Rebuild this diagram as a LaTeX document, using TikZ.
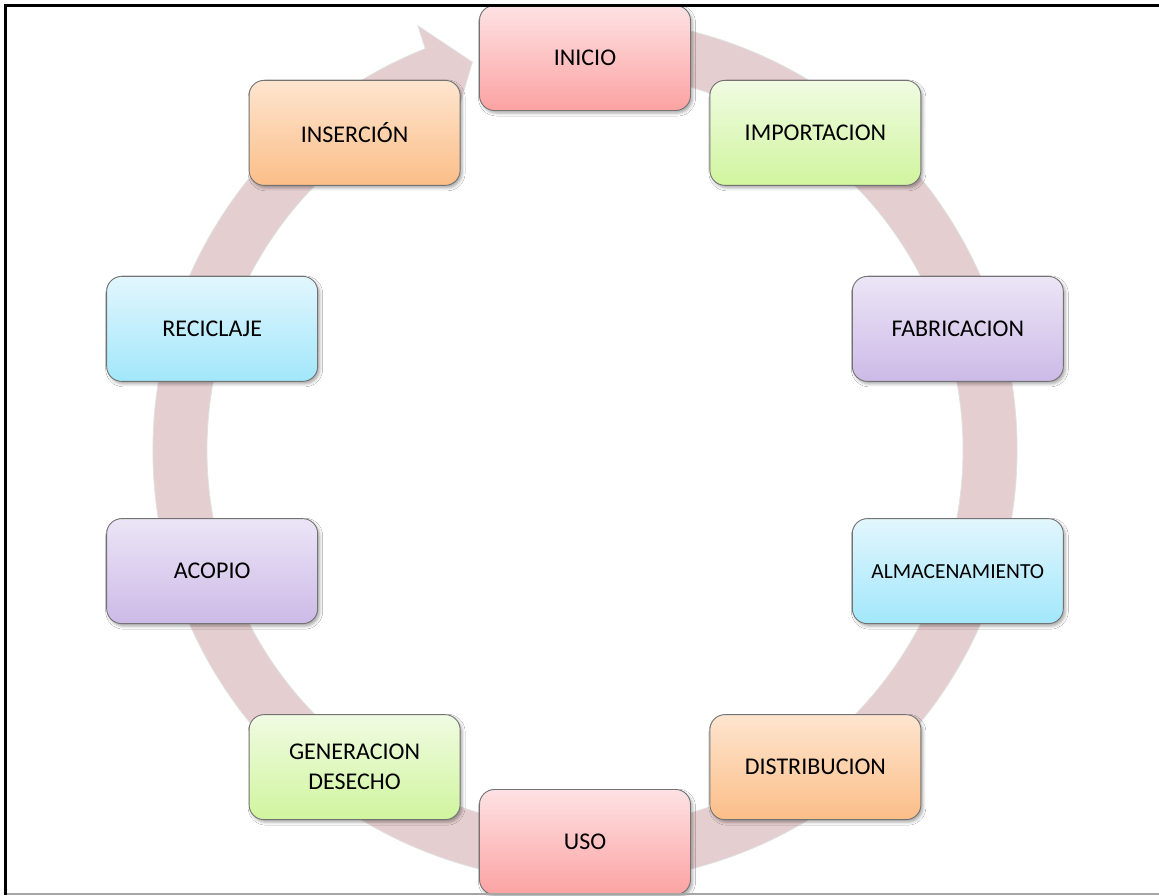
\documentclass[tikz,border=0pt]{standalone}
\usepackage{fontspec}
\setmainfont{Carlito}
\usetikzlibrary{shadows.blur}

\definecolor{ringfill}{RGB}{229,206,207}
\definecolor{pinkT}{RGB}{254,226,228}
\definecolor{pinkB}{RGB}{252,162,162}
\definecolor{greenT}{RGB}{240,251,226}
\definecolor{greenB}{RGB}{208,245,158}
\definecolor{purpleT}{RGB}{236,229,246}
\definecolor{purpleB}{RGB}{204,186,231}
\definecolor{blueT}{RGB}{226,246,253}
\definecolor{blueB}{RGB}{162,231,251}
\definecolor{orangeT}{RGB}{254,229,207}
\definecolor{orangeB}{RGB}{251,190,136}

\tikzset{
  stage/.style={rounded corners=15pt, draw=black!55, line width=0.9pt,
    minimum width=211pt, minimum height=105pt, inner sep=0pt, align=center,
    font=\fontsize{24}{30}\selectfont,
    blur shadow={shadow xshift=2pt, shadow yshift=-2.5pt,
      shadow blur radius=3pt, shadow opacity=35}},
  smalltext/.style={font=\fontsize{21.5}{26}\selectfont},
  pinkbox/.style={top color=pinkT, bottom color=pinkB},
  greenbox/.style={top color=greenT, bottom color=greenB},
  purplebox/.style={top color=purpleT, bottom color=purpleB},
  bluebox/.style={top color=blueT, bottom color=blueB},
  orangebox/.style={top color=orangeT, bottom color=orangeB},
  cyclearrow/.style={fill=ringfill, draw=black!12, line width=0.8pt},
}

\begin{document}
\begin{tikzpicture}[x=1pt,y=1pt]
\useasboundingbox (0,0) rectangle (1159,-895);
\fill[white] (0,0) rectangle (1159,-895);
\coordinate (c) at (585,-450);

\begin{scope}[shift={(c)}]
  % circular arrow running clockwise and ending at the first stage
  \path[cyclearrow]
    (80:432pt) arc[start angle=80, end angle=-248.3, radius=432pt]
    -- (111.5:456pt) -- (106.2:404pt) -- (111.5:354pt)
    -- (111.7:378pt) arc[start angle=-248.3, end angle=80, radius=378pt]
    -- cycle;

  % stages of the cycle
  \node[stage,pinkbox]   (inicio)  at (90:392pt)   {INICIO};
  \node[stage,greenbox]  (import)  at (54:392pt)   {IMPORTACION};
  \node[stage,purplebox] (fabric)  at (18:392pt)   {FABRICACION};
  \node[stage,bluebox,smalltext] (almac) at (-18:392pt) {ALMACENAMIENTO};
  \node[stage,orangebox] (distr)   at (-54:392pt)  {DISTRIBUCION};
  \node[stage,pinkbox]   (uso)     at (-90:392pt)  {USO};
  \node[stage,greenbox]  (genera)  at (-126:392pt) {GENERACION\\DESECHO};
  \node[stage,purplebox] (acopio)  at (-162:392pt) {ACOPIO};
  \node[stage,bluebox]   (recicla) at (162:392pt)  {RECICLAJE};
  \node[stage,orangebox] (insert)  at (126:392pt)  {INSERCIÓN};
\end{scope}

% page frame
\draw[black!35, line width=2pt] (5.5,-893.5) -- (1159,-893.5);
\draw[black, line width=3pt] (5.5,-895) -- (5.5,-5.5) -- (1159,-5.5);
\end{tikzpicture}
\end{document}
